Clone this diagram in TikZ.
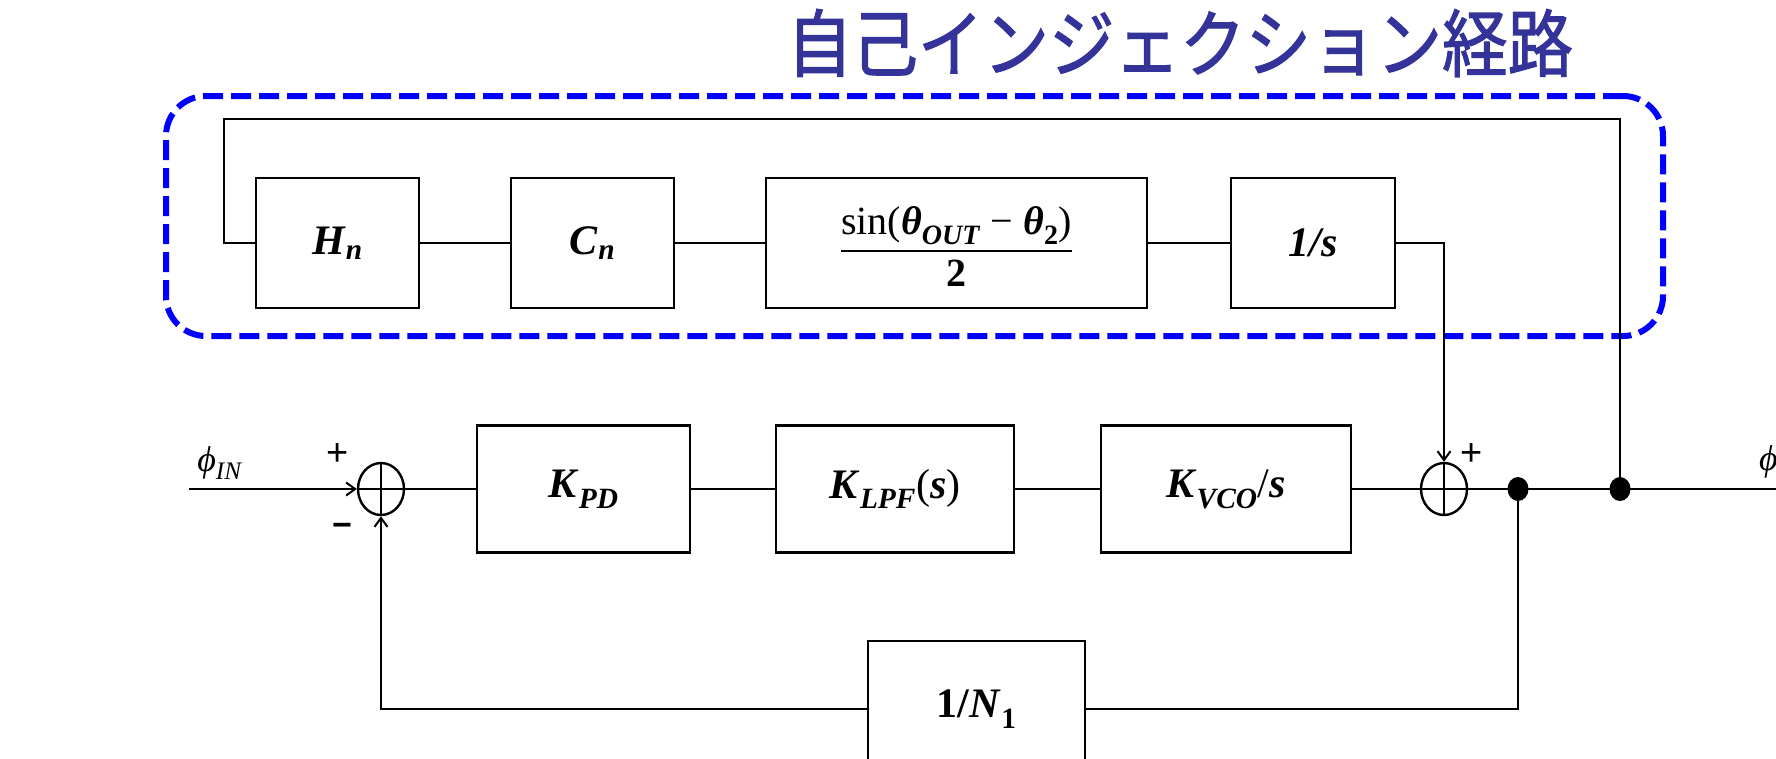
\documentclass[tikz,border=0pt]{standalone}
\usepackage{fontspec}
\setmainfont{Liberation Serif}
\setsansfont{Liberation Sans}
\newfontfamily\jpfont[FakeBold=1.6]{Noto Sans CJK JP}
\usetikzlibrary{arrows.meta,shapes.geometric}
\definecolor{titleblue}{RGB}{51,51,153}
\definecolor{grpblue}{RGB}{0,0,255}
\newcommand\bv[1]{\textbf{\textit{#1}}}
\newcommand\subs[1]{\textsubscript{#1}}
\begin{document}
\begin{tikzpicture}[x=1pt,y=-1pt,
  blk/.style={draw, line width=2.6pt, minimum height=130pt, inner sep=0pt, font=\fontsize{42}{46}\selectfont},
  wire/.style={line width=2.4pt},
  arr/.style={wire, -{Straight Barb[length=9pt,width=13pt,line width=2pt]}},
  sumnode/.style={draw, ellipse, line width=2.4pt, minimum width=46pt, minimum height=52pt, inner sep=0pt},
  dotnode/.style={fill, ellipse, minimum width=21pt, minimum height=24pt, inner sep=0pt},
  lbl/.style={font=\fontsize{36}{38}\selectfont, inner sep=0pt},
  sign/.style={font=\sffamily\fontsize{38}{38}\selectfont, inner sep=0pt},
  grp/.style={draw=grpblue, line width=6pt, dash pattern=on 20pt off 8pt, rounded corners=40pt, inner sep=0pt}
]
\useasboundingbox (0,0) rectangle (1776,758);

% title
\node[text=titleblue, font=\jpfont\fontsize{72}{80}\selectfont, inner sep=0pt] (title) at (1180,43) {\scalebox{0.91}[1.02]{自己インジェクション経路}};

% group frame
\node[grp, minimum width=1497pt, minimum height=240pt] (grp) at (914.5,216) {};

% top row
\node[blk, minimum width=163pt] (hn) at (337.5,243) {\bv{H}\subs{\bv{n}}};
\node[blk, minimum width=163pt] (cn) at (592.5,243) {\bv{C}\subs{\bv{n}}};
\node[blk, minimum width=381pt, font=\fontsize{40}{44}\selectfont] (sinb) at (956.5,243)
  {{\setlength\arrayrulewidth{2pt}\renewcommand\arraystretch{1.12}\begin{tabular}{@{}c@{}}\rule{0pt}{50pt}sin(\bv{θ}\subs{\bv{OUT}} − \bv{θ}\subs{\textbf{2}})\\\hline\textbf{2}\end{tabular}}};
\node[blk, minimum width=164pt] (invs) at (1313,243) {\bv{1/s}};

% main row
\node[sumnode] (sum1) at (381,489) {};
\node[blk, minimum width=213pt, minimum height=127pt] (kpd) at (583.5,489) {\bv{K}\subs{\bv{PD}}};
\node[blk, minimum width=238pt, minimum height=127pt] (klpf) at (895,489) {\bv{K}\subs{\bv{LPF}}(\bv{s})};
\node[blk, minimum width=250pt, minimum height=127pt] (kvco) at (1226,489) {\bv{K}\subs{\bv{VCO}}/\bv{s}};
\node[sumnode] (sum2) at (1444,489) {};
\node[dotnode] (dot1) at (1518,489) {};
\node[dotnode] (dot2) at (1620,489) {};
\node[blk, minimum width=217pt, minimum height=136pt] (ninv) at (976.5,709) {\textbf{1/}\bv{N}\subs{\textbf{1}}};

% crosses in summing junctions
\draw[wire] (sum1.north) -- (sum1.south) (sum1.west) -- (sum1.east);
\draw[wire] (sum2.north) -- (sum2.south) (sum2.west) -- (sum2.east);

% labels
\node[lbl] (phiin) at (220,463) {\textit{ϕ}\subs{\textit{IN}}};
\node[lbl, anchor=west] (phiout) at (1759,462) {\textit{ϕ}\subs{\textit{OUT}}};
\node[sign] (p1) at (338,455) {+};
\node[sign, font=\sffamily\bfseries\fontsize{34}{34}\selectfont] (m1) at (342,530) {−};
\node[sign] (p2) at (1472,455) {+};

% coordinates
\coordinate (in) at (189,489);
\coordinate (out) at (1776,489);
\coordinate (ltr) at (1620,119);
\coordinate (ltl) at (224,119);

% self injection loop
\draw[wire] (dot2.center) -- (ltr) -- (ltl) |- (hn.west);
\draw[wire] (hn.east) -- (cn.west);
\draw[wire] (cn.east) -- (sinb.west);
\draw[wire] (sinb.east) -- (invs.west);
\draw[arr] (invs.east) -| (sum2.north);

% forward path
\draw[arr] (in) -- (sum1.west);
\draw[wire] (sum1.east) -- (kpd.west);
\draw[wire] (kpd.east) -- (klpf.west);
\draw[wire] (klpf.east) -- (kvco.west);
\draw[wire] (kvco.east) -- (sum2.west);
\draw[wire] (sum2.east) -- (out);

% feedback
\draw[wire] (dot1.center) |- (ninv.east);
\draw[arr] (ninv.west) -| (sum1.south);
\end{tikzpicture}
\end{document}
